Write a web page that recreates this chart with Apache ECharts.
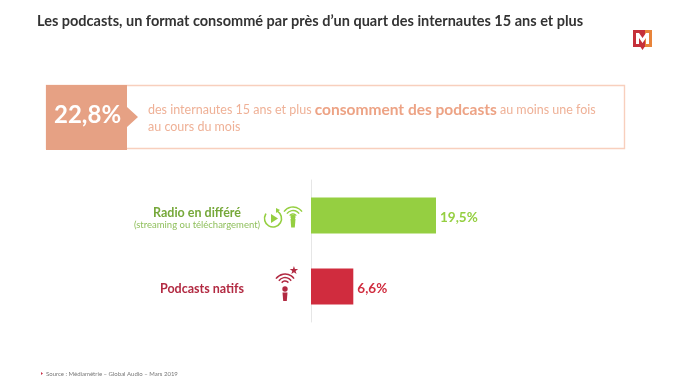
<!DOCTYPE html>
<html><head><meta charset="utf-8">
<style>html,body{margin:0;padding:0;background:#fff}#c{width:689px;height:387px}</style>
<script src="https://cdn.jsdelivr.net/npm/echarts@6/dist/echarts.min.js"></script>
</head><body><div id="c"></div>
<script>
const categories = ['Radio en différé', 'Podcasts natifs'];
const subLabels = ['(streaming ou téléchargement)', ''];
const values = [19.5, 6.6];
const colors = ['#95cf41', '#d02c3e'];
const labelColors = ['#76a83a', '#b22a42'];
const title = 'Les podcasts, un format consommé par près d’un quart des internautes 15 ans et plus';
const keyFigure = '22,8%';
const source = 'Source : Médiamétrie – Global Audio – Mars 2019';
const FONT = 'Lato';
const fr = v => v.toFixed(1).replace('.', ',') + '%';
const arc = (cx, cy, r, a, b, stroke, lw) => ({type:'arc', shape:{cx, cy, r, startAngle:a*Math.PI/180, endAngle:b*Math.PI/180}, style:{stroke, lineWidth:lw, fill:null}, silent:true});
const poly = (points, fill) => ({type:'polygon', shape:{points}, style:{fill}, silent:true});
const circ = (cx, cy, r, fill) => ({type:'circle', shape:{cx, cy, r}, style:{fill}, silent:true});
const G = colors[0], R = '#b22a42';
const chart = echarts.init(document.getElementById('c'), null, {renderer:'canvas'});
chart.setOption({
  animation:false,
  backgroundColor:'#fff',
  grid:{left:311, top:180, width:320.5, height:142},
  xAxis:{type:'value', min:0, max:50, show:false},
  yAxis:{type:'category', inverse:true, data:categories,
    axisLine:{show:true, lineStyle:{color:'#e6e6e6', width:1}},
    axisTick:{show:false},
    axisLabel:{margin:114, align:'center', interval:0, padding:[5,0,0,0],
      formatter:(v, i) => i === 0 ? `{a|${v}}\n{s|${subLabels[i]}}` : `{b|${v}}`,
      rich:{
        a:{fontFamily:FONT, fontWeight:'bold', fontSize:12.5, color:labelColors[0], lineHeight:14, align:'center'},
        s:{fontFamily:FONT, fontSize:9.5, color:'#8fbf5c', lineHeight:11, align:'center'},
        b:{fontFamily:FONT, fontWeight:'bold', fontSize:12.5, color:labelColors[1], padding:[0,0,0,10]}
      }}},
  series:[{type:'bar', barWidth:36,
    data:values.map((v,i)=>({value:v, itemStyle:{color:colors[i]}, label:{color:i?colors[1]:colors[0]}})),
    label:{show:true, position:'right', distance:4, offset:[0,2], formatter:p=>fr(p.value), fontFamily:FONT, fontWeight:'bold', fontSize:13.5}
  }],
  graphic:[
    {type:'text', left:37, top:14, style:{text:title, fontFamily:FONT, fontWeight:'bold', fontSize:14.5, fill:'#333'}},
    {type:'rect', shape:{x:46.5,y:85.5,width:578,height:63}, style:{fill:'#fff', stroke:'#f8cfbd', lineWidth:1.4}},
    poly([[46,85],[127,85],[127,107],[138,117],[127,127],[127,150],[46,150]], '#e6a184'),
    {type:'text', left:54, top:103, style:{text:keyFigure, fontFamily:FONT, fontWeight:'bold', fontSize:24, fill:'#fff'}},
    {type:'text', left:148, top:102, style:{text:'{n|des internautes 15 ans et plus }{h|consomment des podcasts}{n| au moins une fois}\n{n|au cours du mois}',
      rich:{n:{fontFamily:FONT, fontSize:12.5, fill:'#efb197', lineHeight:17}, h:{fontFamily:FONT, fontWeight:'bold', fontSize:15.5, fill:'#eda385', lineHeight:17}}}},
    // radio-en-différé icon
    arc(273,218.5,8.5,-60,215,G,1.6),
    poly([[271,214],[271,223],[278,218.5]],G),
    poly([[276,208],[280,210],[276,213]],G),
    arc(293,218,11,-145,-35,G,1.4), arc(293,218,7.5,-145,-35,G,1.4), arc(293,218,4,-145,-35,G,1.4),
    circ(293,217,2.5,G),
    poly([[290.5,219],[295.5,219],[294.8,227.5],[291.2,227.5]],G),
    // podcast icon
    arc(285,285,11,-145,-35,R,1.5), arc(285,285,7.5,-145,-35,R,1.5), arc(285,285,4,-145,-35,R,1.5),
    circ(285,289,2.7,R),
    poly([[282.5,292.5],[287.5,292.5],[286.8,301],[283.2,301]],R),
    {type:'text', left:289, top:266, style:{text:'★', fontFamily:'DejaVu Sans', fontSize:11, fill:R}},
    // footer
    poly([[41,372],[43,373.5],[41,375]],'#c8324a'),
    {type:'text', left:46, top:371, style:{text:source, fontFamily:FONT, fontSize:6, fill:'#777'}},
    // logo
    poly([[633,30],[652,30],[652,47],[644.5,47],[642.5,50],[640.5,47],[633,47]],'#c5303a'),
    poly([[645,30],[652,30],[652,47],[645,47]],'#e8843a'),
    poly([[636,44],[636,33],[639,33],[642.5,38],[646,33],[649,33],[649,44],[646,44],[646,38],[642.5,43],[639,38],[639,44]],'#fff')
  ]
});
</script></body></html>
